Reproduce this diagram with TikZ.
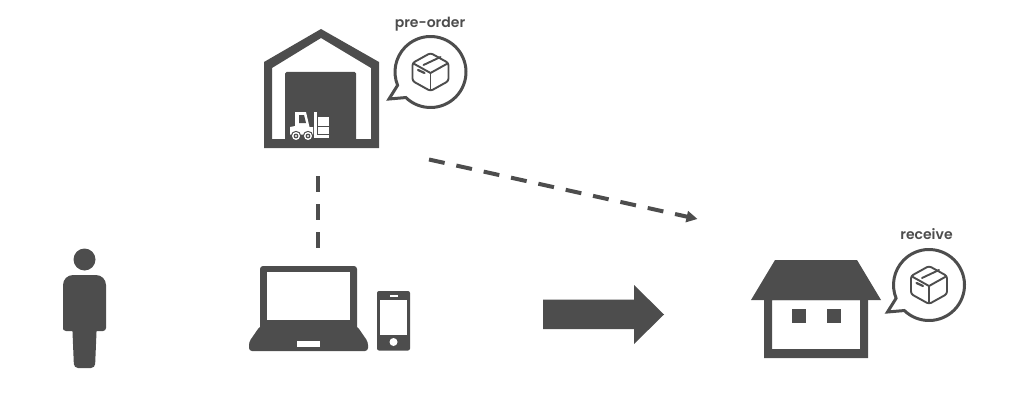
\documentclass[tikz,border=0pt]{standalone}
\usepackage{fontspec}
\setmainfont{Poppins}[BoldFont={Poppins SemiBold}]
\usetikzlibrary{arrows.meta}
\definecolor{ink}{HTML}{4D4D4D}
\tikzset{
  solidink/.style={fill=ink,draw=none},
  knockout/.style={fill=white,draw=none},
  dashlink/.style={draw=ink,line width=4pt,dash pattern=on 16pt off 12pt},
  dasharrow/.style={draw=ink,line width=4pt,dash pattern=on 16pt off 12pt,-{Triangle[length=11pt,width=11pt]}},
  caption/.style={text=ink,font=\fontsize{14}{16}\selectfont\bfseries,inner sep=0pt},
  % speech bubble with a parcel inside, origin at the bubble centre
  parcelbubble/.pic={
    \draw[ink,line width=3pt,line join=miter,fill=white]
      (134:35.5) arc[start angle=134,end angle=-202,radius=35.5] -- (-41.5,27) -- cycle;
    \begin{scope}[ink,line width=1.9pt,line join=round,line cap=round]
      \draw[rounded corners=2.5pt] (0,-19) -- (18,-9) -- (18,9) -- (0,19) -- (-18,9) -- (-18,-9) -- cycle;
      \draw (-17,-8.5) -- (0,1) -- (17,-8.5);
      \draw (0,1) -- (0,18);
      \draw (-7,-7) -- (10,-15);
      \draw[line width=2.2pt] (-12.5,-2) -- (-6,1);
    \end{scope}
  }
}
\begin{document}
\begin{tikzpicture}[x=1pt,y=1pt,yscale=-1]
\useasboundingbox (0,0) rectangle (1012,404);

% warehouse shell and door
\fill[solidink,even odd rule]
  (321,29) -- (379,62) -- (379,148) -- (264,148) -- (264,62) -- cycle
  (321,38) -- (371,68) -- (371,139) -- (272,139) -- (272,68) -- cycle;
\fill[solidink,rounded corners=1.5pt] (285,72) -- (356,72) -- (356,144) -- (285,144) -- cycle;
\fill[solidink] (285,135) rectangle (356,144);

% forklift
\fill[knockout] (295,112) -- (306,112) -- (309.5,127) -- (313,127) -- (313,134.5) -- (290,134.5) -- (290,127) -- (295,126) -- cycle;
\fill[solidink] (299,115) -- (304,115) -- (306,123) -- (299,123) -- cycle;
\fill[knockout] (314,112) rectangle (316.5,137.5);
\fill[knockout] (316.5,135) rectangle (329,137.5);
\fill[knockout] (318,117) rectangle (329,125.5);
\fill[knockout] (318,127) rectangle (329,133.5);
\foreach \wx in {296,308}{
  \fill[ink] (\wx,136) circle (5.2);
  \fill[knockout] (\wx,136) circle (4);
  \fill[ink] (\wx,136) circle (2.4);
  \fill[knockout] (\wx,136) circle (1.1);
}

% bubbles and their captions
\pic[yscale=-1] at (430.5,72) {parcelbubble};
\node[caption] (preorder) at (430,24) {pre-order};
\pic[yscale=-1] at (929,285) {parcelbubble};
\node[caption] (receive) at (926.5,234) {receive};

% connector ends
\coordinate (warehouse-foot) at (318,176);
\coordinate (devices-top) at (318,248);
\coordinate (warehouse-side) at (429,159.5);
\coordinate (home-roof) at (697.5,219);
\draw[dashlink] (warehouse-foot) -- (devices-top);
\draw[dasharrow] (warehouse-side) -- (home-roof);

% person
\fill[solidink] (84.5,259.5) circle (11);
\fill[solidink] (63,327) [rounded corners=10pt] -- (63,275) -- (106,275) [rounded corners=3pt] -- (106,331) -- (63,331) -- cycle;
\fill[solidink,rounded corners=4pt] (72,320) -- (97,320) -- (95,368) -- (74,368) -- cycle;

% laptop
\fill[solidink,rounded corners=3pt]
  (260,330) -- (260,266) -- (357,266) -- (357,330) -- cycle;
\fill[knockout] (267,272) rectangle (350,319.5);
\fill[solidink,rounded corners=3pt]
  (260,326) -- (357,326) -- (368,342) -- (368,351) -- (249,351) -- (249,342) -- cycle;
\fill[knockout] (297,341) rectangle (320,347);

% phone
\fill[solidink,rounded corners=2pt] (377,291) rectangle (410,350.5);
\fill[knockout] (380,300) rectangle (407,334.5);
\fill[knockout] (390,294.8) rectangle (397.5,296.6);
\fill[knockout] (393.5,342) circle (4);

% block arrow
\fill[solidink] (543,299.5) -- (634,299.5) -- (634,285) -- (664,314.5) -- (634,344) -- (634,329) -- (543,329) -- cycle;

% house
\fill[solidink] (775,260) -- (857,260) -- (881,300) -- (751,300) -- cycle;
\fill[solidink,even odd rule] (764,298) rectangle (868,358) (772,300) rectangle (860,349);
\fill[solidink] (792,309) rectangle (806,323);
\fill[solidink] (827,309) rectangle (840.5,323);
\end{tikzpicture}
\end{document}
